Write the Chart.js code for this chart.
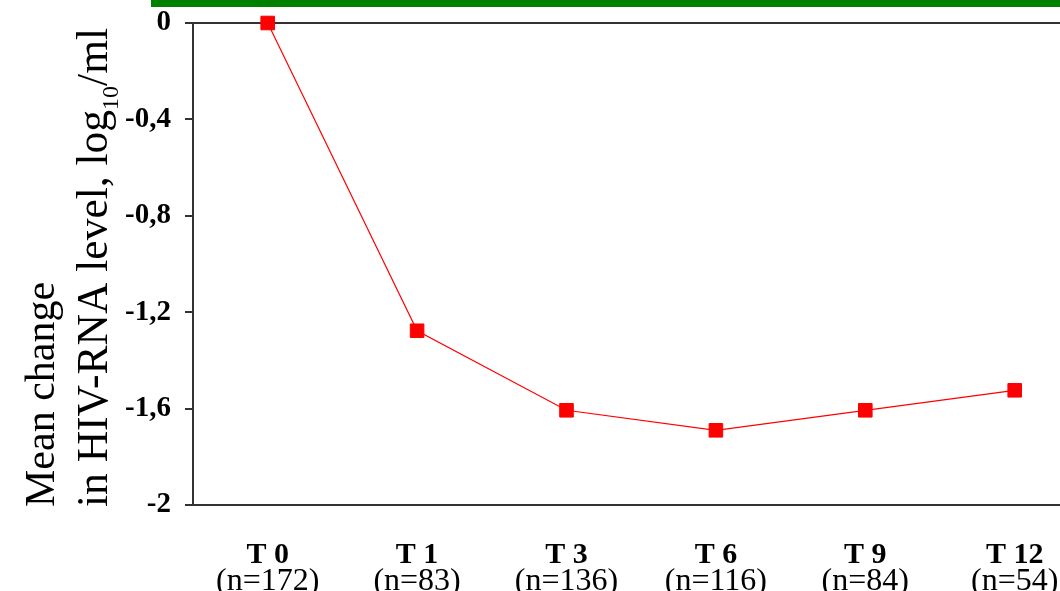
<!DOCTYPE html>
<html>
<head>
<meta charset="utf-8">
<script src="https://cdn.jsdelivr.net/npm/chart.js@4/dist/chart.umd.min.js"></script>
<style>
    html, body { margin: 0; padding: 0; background: #fff; overflow: hidden; }
    #page { position: relative; width: 1060px; height: 591px; overflow: hidden; }
    #wrap { position: absolute; left: 0; top: 0; width: 1100px; height: 591px; }
    #topbar { position: absolute; left: 151px; top: 0; width: 909px; height: 7px; background: #008000; }
</style>
</head>
<body>
<div id="page">
    <div id="wrap"><canvas id="hivChart"></canvas></div>
    <div id="topbar"></div>
</div>
<script>
const timepoints = ["T 0", "T 1", "T 3", "T 6", "T 9", "T 12"];
const patientCounts = ["(n=172)", "(n=83)", "(n=136)", "(n=116)", "(n=84)", "(n=54)"];
const meanChange = [0, -1.277, -1.607, -1.69, -1.607, -1.524];
const yTicks = [0, -0.4, -0.8, -1.2, -1.6, -2];

const serif = "'Liberation Serif', 'Times New Roman', serif";
const axisColor = '#333';

// y title has a subscript, so it is drawn by hand
const yTitlePlugin = {
    id: 'yTitle',
    afterDraw(chart) {
        const ctx = chart.ctx;
        ctx.save();
        ctx.fillStyle = '#000';
        ctx.textAlign = 'left';
        ctx.textBaseline = 'alphabetic';

        ctx.save();
        ctx.translate(54, 507);
        ctx.rotate(-Math.PI / 2);
        ctx.font = `42px ${serif}`;
        ctx.fillText('Mean change', 0, 0);
        ctx.restore();

        ctx.save();
        ctx.translate(107, 507);
        ctx.rotate(-Math.PI / 2);
        ctx.font = `43.5px ${serif}`;
        const part1 = 'in HIV-RNA level, log';
        ctx.fillText(part1, 0, 0);
        let x = ctx.measureText(part1).width;
        ctx.font = `24px ${serif}`;
        ctx.fillText('10', x, 11);
        x += ctx.measureText('10').width;
        ctx.font = `43.5px ${serif}`;
        ctx.fillText('/ml', x, 0);
        ctx.restore();

        ctx.restore();
    }
};

function formatTick(value) {
    if (Math.abs(value - Math.round(value)) < 1e-9) {
        return String(Math.round(value));
    }
    return value.toFixed(1).replace('.', ',');
}

const chart = new Chart('hivChart', {
    type: 'line',
    data: {
        labels: timepoints,
        datasets: [{
            data: meanChange,
            borderColor: '#ff0000',
            borderWidth: 1.2,
            backgroundColor: '#ff0000',
            pointStyle: 'rect',
            pointRadius: 9.6,
            pointBorderWidth: 1,
            pointBorderColor: '#ff0000',
            pointBackgroundColor: '#ff0000',
            tension: 0,
            clip: false
        }]
    },
    options: {
        responsive: true,
        maintainAspectRatio: false,
        animation: false,
        layout: {
            padding: { left: 0, right: 7, top: 23, bottom: 0 }
        },
        plugins: {
            legend: { display: false },
            tooltip: { enabled: false }
        },
        scales: {
            x: {
                type: 'category',
                position: 'bottom',
                weight: 1,
                offset: true,
                grid: { display: false, drawTicks: false },
                border: { display: true, color: axisColor, width: 2 },
                ticks: {
                    color: '#000',
                    padding: 32,
                    maxRotation: 0,
                    autoSkip: false,
                    font: { family: serif, size: 30, weight: 'bold' }
                },
                afterFit(scale) { scale.height = 62; }
            },
            x2: {
                type: 'category',
                position: 'bottom',
                weight: 2,
                offset: true,
                labels: patientCounts,
                grid: { display: false, drawTicks: false },
                border: { display: false },
                ticks: {
                    color: '#000',
                    padding: -5,
                    maxRotation: 0,
                    autoSkip: false,
                    font: { family: serif, size: 32 }
                },
                afterFit(scale) { scale.height = 24; }
            },
            y: {
                min: -2,
                max: 0,
                afterBuildTicks(scale) {
                    scale.ticks = yTicks.map(v => ({ value: v }));
                },
                grid: {
                    drawOnChartArea: true,
                    tickLength: 8,
                    lineWidth: 2,
                    tickColor: axisColor,
                    color: ctx => (ctx.tick && (ctx.tick.value === 0 || ctx.tick.value === -2)) ? axisColor : 'rgba(0,0,0,0)'
                },
                border: { display: true, color: axisColor, width: 2 },
                ticks: {
                    color: '#000',
                    padding: 14,
                    font: { family: serif, size: 29, weight: 'bold' },
                    callback: value => formatTick(value)
                },
                afterFit(scale) {
                    scale.width = 193;
                    scale.paddingTop = 0;
                    scale.paddingBottom = 0;
                }
            }
        }
    },
    plugins: [yTitlePlugin]
});
</script>
</body>
</html>
